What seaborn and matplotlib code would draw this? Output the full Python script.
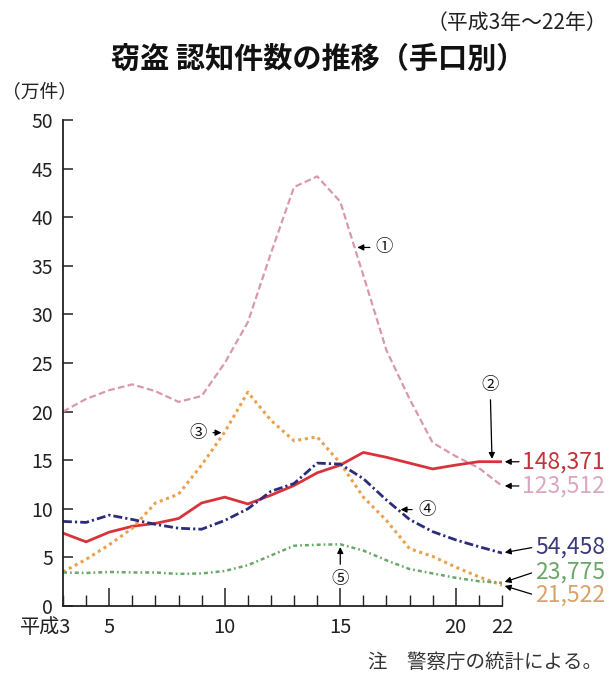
import numpy as np
import pandas as pd
import matplotlib
matplotlib.use('Agg')
import matplotlib.pyplot as plt
import matplotlib.transforms as mtrans
import seaborn as sns

# ---- data (万件) ----
years = list(range(3, 23))
s1_pink = [20.0, 21.3, 22.2, 22.8, 22.1, 21.0, 21.6, 25.0, 29.2, 36.3,
           43.1, 44.2, 41.6, 34.0, 26.3, 21.3, 16.8, 15.4, 14.2, 12.35]
s2_red = [7.5, 6.6, 7.6, 8.2, 8.5, 9.0, 10.6, 11.2, 10.5, 11.4,
          12.4, 13.7, 14.5, 15.8, 15.3, 14.7, 14.1, 14.5, 14.85, 14.84]
s3_orange = [3.5, 4.8, 6.3, 8.0, 10.6, 11.5, 14.5, 17.9, 22.0, 19.1,
             17.0, 17.4, 14.7, 11.2, 8.8, 5.9, 5.1, 4.0, 3.0, 2.15]
s4_navy = [8.7, 8.6, 9.35, 8.9, 8.4, 8.0, 7.9, 8.8, 10.0, 11.8,
           12.6, 14.7, 14.6, 13.1, 10.9, 8.9, 7.65, 6.8, 6.1, 5.45]
s5_green = [3.45, 3.4, 3.5, 3.45, 3.45, 3.3, 3.35, 3.6, 4.2, 5.2,
            6.2, 6.3, 6.35, 5.7, 4.7, 3.8, 3.35, 2.9, 2.55, 2.38]
series_names = ['①', '②', '③', '④', '⑤']
end_labels = ['123,512', '148,371', '21,522', '54,458', '23,775']
y_ticks = list(range(0, 51, 5))
x_major = [5, 10, 15, 20]
x_edge_labels = ['平成3', '22']

sns.set_style('ticks')
plt.rcParams['font.family'] = ['Noto Sans CJK JP', 'DejaVu Sans']

fig = plt.figure(figsize=(6.09, 6.77), dpi=100)
ax = fig.add_axes([63 / 609, 71 / 677, 439 / 609, 486 / 677])

all_series = [s1_pink, s2_red, s3_orange, s4_navy, s5_green]
colors = ['#d898ad', '#d8333b', '#eba04c', '#2c2d7a', '#68a868']
label_colors = ['#dba6c0', '#c4323c', '#d9a26a', '#3a3a7a', '#6aa56a']
widths = [1.6, 2.0, 2.2, 2.0, 1.8]
styles = [(0, (3.0, 1.5)), '-', (0, (1.0, 1.2)), (0, (3.2, 1.1, 0.8, 1.1)),
          (0, (1.6, 1.2, 0.7, 1.2))]

df = pd.DataFrame({'year': years * 5,
                   'value': sum(all_series, []),
                   'series': sum([[n] * len(years) for n in series_names], [])})

for name, c, w, ls in zip(series_names, colors, widths, styles):
    sub = df[df['series'] == name]
    sns.lineplot(data=sub, x='year', y='value', ax=ax, color=c,
                 linewidth=w, linestyle=ls, legend=False)

ax.set_xlim(3, 22)
ax.set_ylim(0, 50)
ax.set_xlabel('')
ax.set_ylabel('')
sns.despine(ax=ax)
for sp in ['left', 'bottom']:
    ax.spines[sp].set_linewidth(1.3)
    ax.spines[sp].set_color('#222222')

ax.set_yticks(y_ticks)
ax.tick_params(axis='y', direction='in', length=7, width=1.1, pad=7,
               labelsize=14, color='#222222', labelcolor='#222222')
ax.set_xticks(x_major, labels=[str(v) for v in x_major])
minor_labels = [''] * len(years)
minor_labels[0] = x_edge_labels[0]
minor_labels[-1] = x_edge_labels[1]
ax.set_xticks(years, labels=minor_labels, minor=True)
ax.tick_params(axis='x', which='major', direction='in', length=13, width=1.1,
               pad=8, labelsize=14.5, color='#222222', labelcolor='#222222')
ax.tick_params(axis='x', which='minor', direction='in', length=8, width=1.0,
               pad=8, labelsize=14.5, color='#222222', labelcolor='#222222')
first = ax.get_xticklabels(minor=True)[0]
first.set_horizontalalignment('right')
first.set_transform(first.get_transform() + mtrans.ScaledTranslation(6 / 72, 0, fig.dpi_scale_trans))

# titles & notes
fig.text(318 / 609, 1 - 59 / 677, '窃盗 認知件数の推移（手口別）', ha='center', va='center',
         fontsize=21, fontweight='bold', color='#111111')
fig.text(607 / 609, 1 - 23 / 677, '（平成3年～22年）', ha='right', va='center',
         fontsize=15, color='#222222')
fig.text(2 / 609, 1 - 92 / 677, '（万件）', ha='left', va='center',
         fontsize=13.5, color='#222222')
fig.text(602 / 609, 1 - 663 / 677, '注　警察庁の統計による。', ha='right', va='center',
         fontsize=14, color='#333333')

arrow_kw = dict(arrowstyle='-|>', color='black', lw=0.9, mutation_scale=9,
                shrinkA=1, shrinkB=0)

# right-end value labels with arrows
end_offsets = [(0, 0), (0, 0), (0, -10), (0, 6), (0, 11)]
for vals, lab, lc, (dx, dy) in zip(all_series, end_labels, label_colors, end_offsets):
    ax.annotate(lab, xy=(years[-1], vals[-1]), xycoords='data',
                xytext=(103 * 0.72, dy * 0.72), textcoords='offset points',
                ha='right', va='center', fontsize=16.5, color=lc,
                annotation_clip=False,
                arrowprops=dict(arrow_kw, relpos=(0, 0.5), shrinkA=0, shrinkB=2))

# circled-number pointers
pointer_x = [15.62, 21.57, 9.98, 17.49, 15.0]
pointer_off = [(30, 0), (-2, 77), (-26, 0), (29, 0), (0, -35)]
for name, vals, px, (ox, oy) in zip(series_names, all_series, pointer_x, pointer_off):
    py = float(np.interp(px, years, vals))
    ax.annotate(name, xy=(px, py), xycoords='data',
                xytext=(ox * 0.72, oy * 0.72), textcoords='offset points',
                ha='center', va='center', fontsize=12.5, color='#111111',
                annotation_clip=False,
                arrowprops=dict(arrow_kw, shrinkA=2, shrinkB=2))

fig.savefig('out.png', dpi=100)
